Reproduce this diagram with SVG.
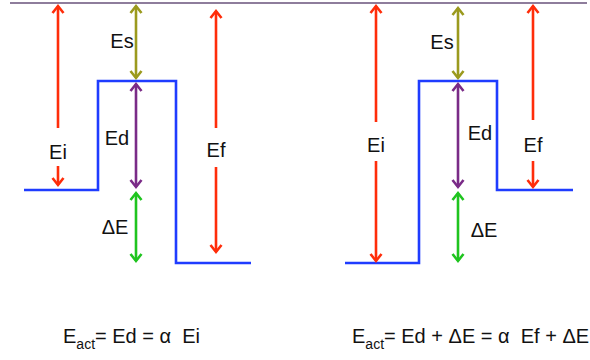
<svg xmlns="http://www.w3.org/2000/svg" width="590" height="360" viewBox="0 0 590 360">
<style>
  .lbl { font-family: "Liberation Sans", Arial, sans-serif; font-size: 20px; fill: #111; text-anchor: middle; }
  .eq { font-family: "Liberation Sans", Arial, sans-serif; font-size: 20px; fill: #111; white-space: pre; }
  .sub { font-size: 14px; }
  .lvl { fill: none; stroke: #1f3cff; stroke-width: 2.6; stroke-linejoin: miter; }
  .a { fill: none; stroke-width: 2.6; }
  .red { stroke: #ff2d0a; }
  .olive { stroke: #9b9a1e; }
  .purple { stroke: #7a2b87; }
  .green { stroke: #1fc41f; }
</style>
<defs>
  <marker id="mRed" markerUnits="userSpaceOnUse" markerWidth="20" markerHeight="20" viewBox="-10 -10 20 20" refX="0" refY="0" orient="auto-start-reverse">
    <path d="M-7,-5.5 L0,0 L-7,5.5" fill="none" stroke="#ff2d0a" stroke-width="2.6"/>
  </marker>
  <marker id="mOlive" markerUnits="userSpaceOnUse" markerWidth="20" markerHeight="20" viewBox="-10 -10 20 20" refX="0" refY="0" orient="auto-start-reverse">
    <path d="M-7,-5.5 L0,0 L-7,5.5" fill="none" stroke="#9b9a1e" stroke-width="2.6"/>
  </marker>
  <marker id="mPurple" markerUnits="userSpaceOnUse" markerWidth="20" markerHeight="20" viewBox="-10 -10 20 20" refX="0" refY="0" orient="auto-start-reverse">
    <path d="M-7,-5.5 L0,0 L-7,5.5" fill="none" stroke="#7a2b87" stroke-width="2.6"/>
  </marker>
  <marker id="mGreen" markerUnits="userSpaceOnUse" markerWidth="20" markerHeight="20" viewBox="-10 -10 20 20" refX="0" refY="0" orient="auto-start-reverse">
    <path d="M-7,-5.5 L0,0 L-7,5.5" fill="none" stroke="#1fc41f" stroke-width="2.6"/>
  </marker>
</defs>
<rect width="590" height="360" fill="#fff"/>

<g id="vacuum-level">
  <line x1="10" y1="3" x2="587" y2="3" stroke="#8e7d9c" stroke-width="2"/>
</g>

<g id="left-profile">
  <polyline class="lvl" points="24,190 98,190 98,81 176,81 176,263 251,263"/>
</g>
<g id="right-profile">
  <polyline class="lvl" points="345,263 419,263 419,81 497,81 497,190 573,190"/>
</g>

<g id="connectors">
  <line class="a red" x1="58" y1="128" x2="58" y2="6" marker-end="url(#mRed)"/>
  <line class="a red" x1="58" y1="166" x2="58" y2="185" marker-end="url(#mRed)"/>
  <line class="a olive" x1="136" y1="6" x2="136" y2="78" marker-start="url(#mOlive)" marker-end="url(#mOlive)"/>
  <line class="a purple" x1="136" y1="84" x2="136" y2="187" marker-start="url(#mPurple)" marker-end="url(#mPurple)"/>
  <line class="a green" x1="136" y1="193" x2="136" y2="261" marker-start="url(#mGreen)" marker-end="url(#mGreen)"/>
  <line class="a red" x1="216" y1="128" x2="216" y2="11" marker-end="url(#mRed)"/>
  <line class="a red" x1="216" y1="167" x2="216" y2="252" marker-end="url(#mRed)"/>
  <line class="a red" x1="376" y1="122" x2="376" y2="6" marker-end="url(#mRed)"/>
  <line class="a red" x1="376" y1="161" x2="376" y2="261" marker-end="url(#mRed)"/>
  <line class="a olive" x1="458" y1="8" x2="458" y2="78" marker-start="url(#mOlive)" marker-end="url(#mOlive)"/>
  <line class="a purple" x1="458" y1="84" x2="458" y2="187" marker-start="url(#mPurple)" marker-end="url(#mPurple)"/>
  <line class="a green" x1="458" y1="193" x2="458" y2="261" marker-start="url(#mGreen)" marker-end="url(#mGreen)"/>
  <line class="a red" x1="533" y1="120" x2="533" y2="6" marker-end="url(#mRed)"/>
  <line class="a red" x1="533" y1="161" x2="533" y2="187" marker-end="url(#mRed)"/>
</g>

<g id="left-labels">
  <text class="lbl" x="58" y="159">Ei</text>
  <text class="lbl" x="122" y="48">Es</text>
  <text class="lbl" x="117" y="145">Ed</text>
  <text class="lbl" x="115" y="234">ΔE</text>
  <text class="lbl" x="216" y="157">Ef</text>
</g>
<g id="right-labels">
  <text class="lbl" x="376" y="152">Ei</text>
  <text class="lbl" x="442" y="49">Es</text>
  <text class="lbl" x="480" y="140">Ed</text>
  <text class="lbl" x="484" y="237">ΔE</text>
  <text class="lbl" x="533" y="152">Ef</text>
</g>

<g id="left-equation">
  <text class="eq" x="63" y="343" xml:space="preserve">E<tspan class="sub" dy="6">act</tspan><tspan dy="-6">= Ed = α  Ei</tspan></text>
</g>
<g id="right-equation">
  <text class="eq" x="352" y="343" xml:space="preserve">E<tspan class="sub" dy="6">act</tspan><tspan dy="-6">= Ed + ΔE = α  Ef + ΔE</tspan></text>
</g>
</svg>
